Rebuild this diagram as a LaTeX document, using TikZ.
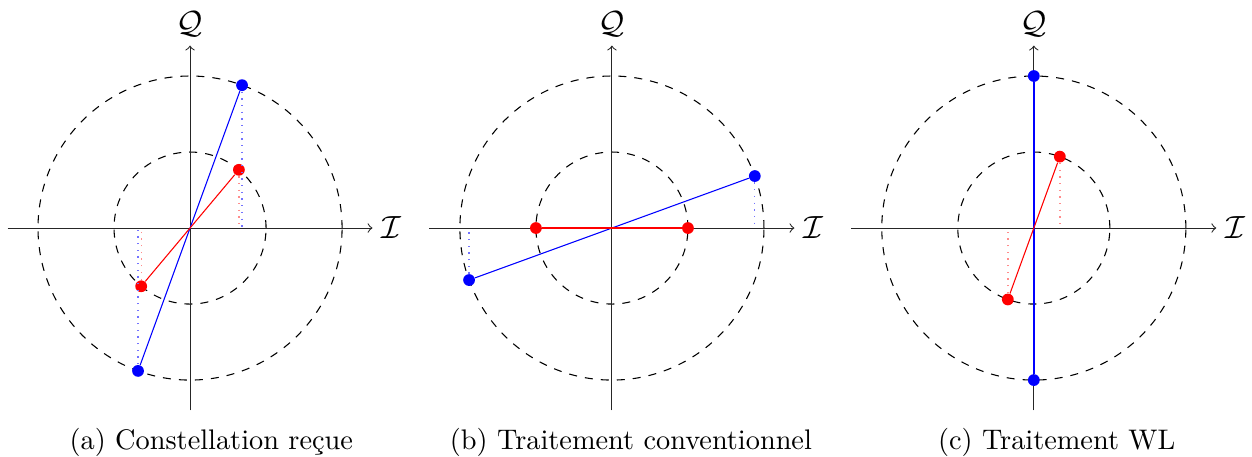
\documentclass[tikz,border=0pt]{standalone}
\usepackage{fontspec}
\usepackage{amsmath}
\usepackage{xcolor}
\usepackage{tikz}
\usetikzlibrary{arrows, positioning, calc}

\begin{document}
\begin{tikzpicture}[dot/.style={circle, fill, inner sep=0pt, minimum size=0.155cm}, ring/.style={dashed}, proj/.style={dotted, line width=0.5pt}, axis/.style={->, black!85}, lbl/.style={font=\large, black}, captxt/.style={font=\fontsize{10.6}{13}\selectfont}]
\useasboundingbox (-2.5,-3.01) rectangle (13.97,3);

% Constellation recue
\coordinate (oa) at (0,0);
\draw (oa) circle (1) (oa) circle (2) [ring];
\draw[axis] (-2.4,0) -- (2.4,0) node[right, lbl] (ia) {$\mathcal{I}$};
\draw[axis] (0,-2.4) -- (0,2.4) node[above, lbl] (qa) {$\mathcal{Q}$};
\node[dot, blue] (ba1) at (70:2) {};
\node[dot, blue] (ba2) at (250:2) {};
\node[dot, red] (ra1) at (50:1) {};
\node[dot, red] (ra2) at (230:1) {};
\draw[blue] (ba1) -- (ba2);
\draw[red] (ra1) -- (ra2);
\draw[proj, blue!55] (ba1) -- (ba1 |- oa);
\draw[proj, blue!55] (ba2) -- (ba2 |- oa);
\draw[proj, red!45] (ra1) -- (ra1 |- oa);
\draw[proj, red!45] (ra2) -- (ra2 |- oa);
\node[captxt] (capa) at (0.28,-2.82) {(a) Constellation reçue};

% Traitement conventionnel
\begin{scope}[xshift=5.55cm]
\coordinate (ob) at (0,0);
\draw (ob) circle (1) (ob) circle (2) [ring];
\draw[axis] (-2.4,0) -- (2.4,0) node[right, lbl] (ib) {$\mathcal{I}$};
\draw[axis] (0,-2.4) -- (0,2.4) node[above, lbl] (qb) {$\mathcal{Q}$};
\node[dot, blue] (bb1) at (20:2) {};
\node[dot, blue] (bb2) at (200:2) {};
\node[dot, red] (rb1) at (0:1) {};
\node[dot, red] (rb2) at (180:1) {};
\draw[blue] (bb1) -- (bb2);
\draw[red, semithick] (rb1) -- (rb2);
\draw[proj, blue!55] (bb1) -- (bb1 |- ob);
\draw[proj, blue!55] (bb2) -- (bb2 |- ob);
\node[captxt] (capb) at (0.25,-2.82) {(b) Traitement conventionnel};
\end{scope}

% Traitement WL
\begin{scope}[xshift=11.1cm]
\coordinate (oc) at (0,0);
\draw (oc) circle (1) (oc) circle (2) [ring];
\draw[axis] (-2.4,0) -- (2.4,0) node[right, lbl] (ic) {$\mathcal{I}$};
\draw[axis] (0,-2.4) -- (0,2.4) node[above, lbl] (qc) {$\mathcal{Q}$};
\node[dot, blue] (bc1) at (90:2) {};
\node[dot, blue] (bc2) at (270:2) {};
\node[dot, red] (rc1) at (70:1) {};
\node[dot, red] (rc2) at (250:1) {};
\draw[blue, semithick] (bc1) -- (bc2);
\draw[red] (rc1) -- (rc2);
\draw[proj, red!45] (rc1) -- (rc1 |- oc);
\draw[proj, red!45] (rc2) -- (rc2 |- oc);
\node[captxt] (capc) at (0.3,-2.82) {(c) Traitement WL};
\end{scope}

\end{tikzpicture}
\end{document}
